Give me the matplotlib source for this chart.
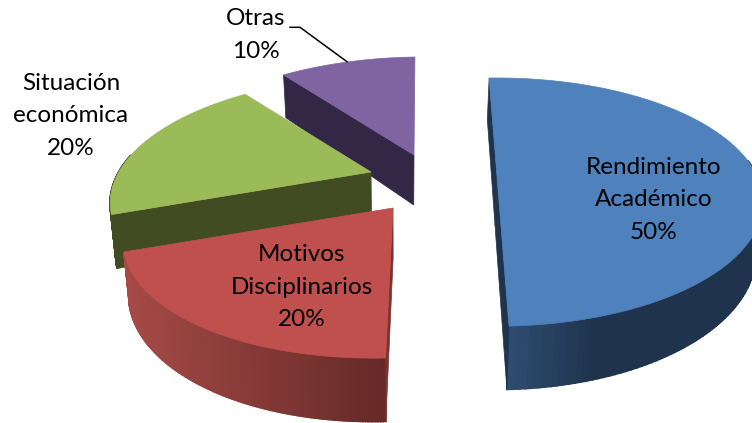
import numpy as np
from matplotlib import pyplot as plt
from matplotlib.colors import to_rgb
from matplotlib.patches import Polygon

# clockwise from the top of the pie
names = ['Rendimiento\nAcadémico', 'Motivos\nDisciplinarios', 'Situación\neconómica', 'Otras']
values = [50, 20, 20, 10]

top_colors = ['#4f81bd', '#c0504d', '#9bbb59', '#8064a2']
rim_left = ['#2f4e72', '#a54a47', '#414c22', '#322744']
rim_right = ['#1f344c', '#652a27', '#414c22', '#322744']
face_colors = ['#1f344c', '#7a3331', '#414c22', '#322744']

# pixel position of each exploded slice and how much it leans
apex_x = [497, 393, 371, 414]
apex_y = [176, 208, 172, 155]
shear = [0, -0.13, -0.1, -0.09]
size = [1, 1, 0.97, 1]
# share of the visible rim over which the gradient runs
fade = [0.35, 1.0, 1.0, 1.0]

start_angle = -2.1
R, Q, k, depth = 260, 118.6, 0.21, 50


def top_edge(t, i):
    # perspective ellipse, t in degrees clockwise from the back
    u, v = np.sin(np.radians(t)), np.cos(np.radians(t))
    x = size[i] * R * u / (1 + k * v)
    y = -size[i] * Q * v / (1 + k * v)
    return apex_x[i] + x + shear[i] * y, apex_y[i] + y, v


def lower(x, y, v):
    return x + 0.02 * (400 - x), y + depth / (1 + k * v)


fig = plt.figure(figsize=(7.52, 4.23), dpi=100)
ax = fig.add_axes([0, 0, 1, 1])
ax.set_xlim(0, 752)
ax.set_ylim(423, 0)
ax.axis('off')

shares = np.array(values) / sum(values) * 360
starts = start_angle + np.concatenate([[0], np.cumsum(shares)[:-1]])

# back slices first
for i in [3, 2, 1, 0]:
    a0, a1 = starts[i], starts[i] + shares[i]
    t = np.linspace(a0, a1, 161)
    x, y, v = top_edge(t, i)
    xl, yl = lower(x, y, v)

    # outer rim, cut in thin strips for the gradient
    front = v < 0.15
    if front.any():
        lo, hi = x[front].min(), x[front].max()
        c1, c2 = np.array(to_rgb(rim_left[i])), np.array(to_rgb(rim_right[i]))
        for j in range(len(t) - 1):
            if not front[j]:
                continue
            f = np.clip((x[j] - lo) / max(hi - lo, 1) / fade[i], 0, 1)
            col = c1 + (c2 - c1) * f
            quad = [(x[j], y[j]), (x[j + 1], y[j + 1]), (xl[j + 1], yl[j + 1]), (xl[j], yl[j])]
            ax.add_patch(Polygon(quad, closed=True, fc=col, ec=col, lw=1.4, zorder=i * -3 + 10))

    # cut face on the edge turned to the viewer
    px, py = apex_x[i], apex_y[i]
    pxl, pyl = lower(px, py, 0)
    ends = [0, -1] if i == 0 else [0]
    for e in ends:
        face = [(x[e], y[e]), (px, py), (pxl, pyl), (xl[e], yl[e])]
        ax.add_patch(Polygon(face, closed=True, fc=face_colors[i], ec=face_colors[i], lw=0.5,
                             zorder=i * -3 + 11))

    # top of the slice
    pts = [(px, py)] + list(zip(x, y))
    ax.add_patch(Polygon(pts, closed=True, fc=top_colors[i], ec=top_colors[i], lw=0.5,
                         zorder=i * -3 + 12))

font = dict(family='Lato', fontsize=17.5, color='black', ha='center', va='center',
            linespacing=1.7, zorder=20)
ax.text(654, 200, f'{names[0]}\n{values[0]}%', **font)
ax.text(302, 287, f'{names[1]}\n{values[1]}%', **font)
ax.text(71, 116, f'{names[2]}\n{values[2]}%', **font)
ax.text(256, 35, f'{names[3]}\n{values[3]}%', **font)

ax.plot([290, 300, 347], [27.3, 27.3, 61.7], color='black', lw=1.1, zorder=20)

fig.savefig('out.png', dpi=100)
